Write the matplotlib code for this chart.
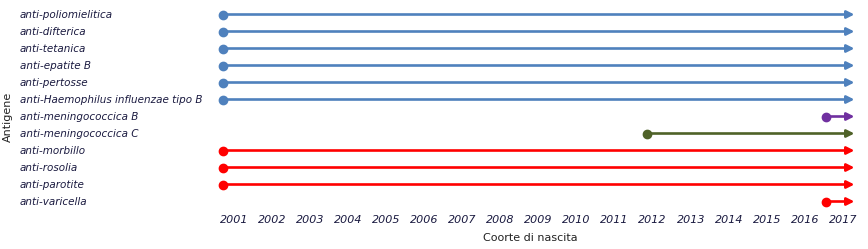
import matplotlib
matplotlib.use("Agg")
import matplotlib.pyplot as plt
from matplotlib.transforms import blended_transform_factory

antigens = ["anti-poliomielitica", "anti-difterica", "anti-tetanica", "anti-epatite B",
            "anti-pertosse", "anti-Haemophilus influenzae tipo B", "anti-meningococcica B",
            "anti-meningococcica C", "anti-morbillo", "anti-rosolia", "anti-parotite",
            "anti-varicella"]
start_year = [2000.7, 2000.7, 2000.7, 2000.7, 2000.7, 2000.7, 2016.55,
              2011.85, 2000.7, 2000.7, 2000.7, 2016.55]
end_year = [2017.3] * 12
colors = ["#4F81BD"] * 6 + ["#7030A0", "#4F6228"] + ["#FF0000"] * 4
years = list(range(2001, 2018))

fig = plt.figure(figsize=(8.68, 2.49), dpi=100)
ax = fig.add_axes([215/868, 1 - 210/249, (862-215)/868, (210-6)/249])
n = len(antigens)
ax.set_xlim(2000.5, 2017.5)
ax.set_ylim(n - 0.5, -0.5)
trans = blended_transform_factory(fig.transFigure, ax.transData)

for i, (a, s, e, c) in enumerate(zip(antigens, start_year, end_year, colors)):
    ax.annotate("", xy=(e, i), xytext=(s, i),
                arrowprops=dict(arrowstyle="-|>", color=c, lw=1.9,
                                mutation_scale=11, shrinkA=0, shrinkB=0))
    ax.plot([s], [i], "o", color=c, markersize=6, zorder=3)
    ax.text(20/868, i, a, transform=trans,
            ha="left", va="center", fontsize=7.5, style="italic", color="#1a1a40")

ax.set_yticks([])
ax.set_xticks(years)
ax.set_xticklabels([str(y) for y in years], style="italic", fontsize=8, color="#1a1a40")
ax.tick_params(axis="x", length=0, pad=3.5)
for sp in ax.spines.values():
    sp.set_visible(False)

fig.text(530/868, 1 - 238/249, "Coorte di nascita", ha="center", va="center", fontsize=8, color="#222222")
fig.text(8/868, 1 - 117/249, "Antigene", ha="center", va="center", rotation=90, fontsize=8, color="#222222")

fig.savefig("out.png", dpi=100)
